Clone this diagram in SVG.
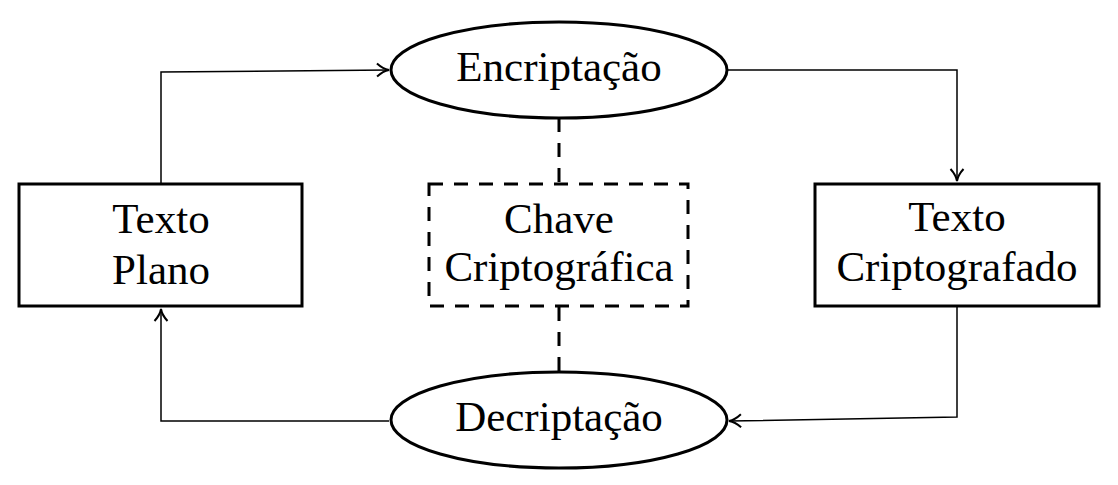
<svg xmlns="http://www.w3.org/2000/svg" width="1118" height="485" viewBox="0 0 1118 485">
<style>
.node{fill:#fff;stroke:#000;stroke-width:3}
.dash{fill:none;stroke:#000;stroke-width:3;stroke-dasharray:14 11}
.conn{fill:none;stroke:#000;stroke-width:1.5}
.lbl{font-family:"Liberation Serif","Times New Roman",serif;font-size:43px;fill:#000;text-anchor:middle}
</style>
<defs>
<marker id="arr" viewBox="0 0 14 16" refX="13" refY="8" markerWidth="14" markerHeight="16" markerUnits="userSpaceOnUse" orient="auto">
<path d="M1,1.5 Q7,7 13,8 Q7,9 1,14.5" fill="none" stroke="#000" stroke-width="2"/>
</marker>
</defs>
<rect width="1118" height="485" fill="#fff"/>
<g id="connectors">
<polyline class="conn" points="161,183 161,72 389,70" marker-end="url(#arr)"/>
<polyline class="conn" points="727,70 957,70 957,181" marker-end="url(#arr)"/>
<polyline class="conn" points="957,307 957,417 729,421" marker-end="url(#arr)"/>
<polyline class="conn" points="389,421 161,421 161,309" marker-end="url(#arr)"/>
<line class="dash" x1="559" y1="118" x2="559" y2="183"/>
<line class="dash" x1="559" y1="307" x2="559" y2="372"/>
</g>
<g id="texto-plano">
<rect class="node" x="19" y="184" width="283" height="122"/>
<text class="lbl" x="161" y="233">Texto</text>
<text class="lbl" x="161" y="284">Plano</text>
</g>
<g id="encriptacao">
<ellipse class="node" cx="559" cy="70" rx="168" ry="48"/>
<text class="lbl" x="559" y="81">Encriptação</text>
</g>
<g id="chave">
<rect class="dash" x="429" y="184" width="259" height="122"/>
<text class="lbl" x="559" y="233">Chave</text>
<text class="lbl" x="559" y="281">Criptográfica</text>
</g>
<g id="texto-criptografado">
<rect class="node" x="815" y="184" width="284" height="122"/>
<text class="lbl" x="957" y="231">Texto</text>
<text class="lbl" x="957" y="281">Criptografado</text>
</g>
<g id="decriptacao">
<ellipse class="node" cx="559" cy="420" rx="168" ry="48"/>
<text class="lbl" x="559" y="431">Decriptação</text>
</g>
</svg>
